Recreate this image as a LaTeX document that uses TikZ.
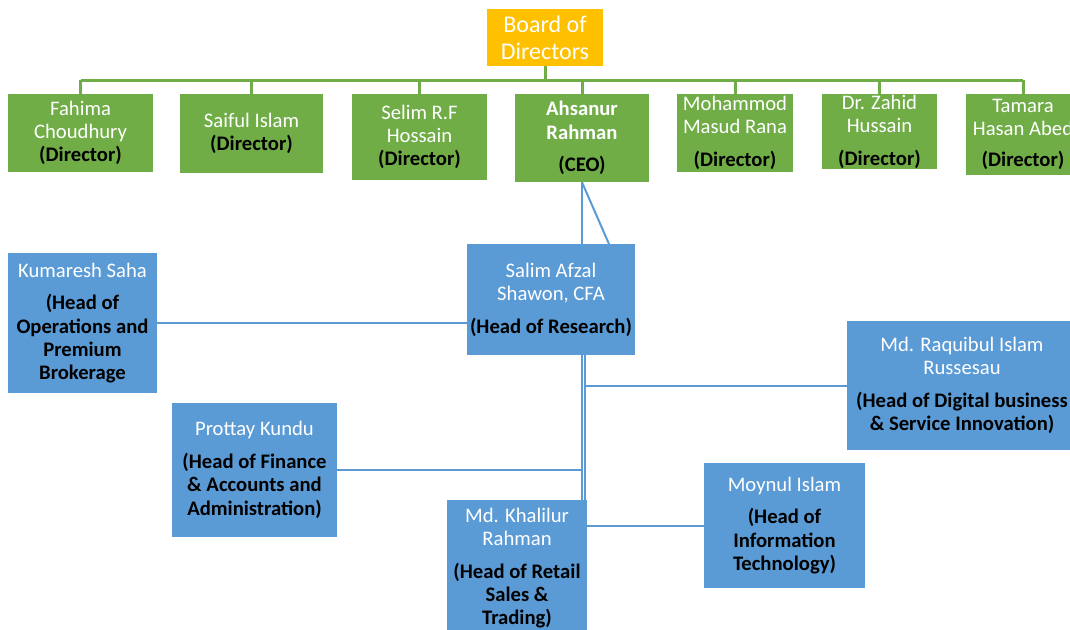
\documentclass[tikz,border=0pt]{standalone}
\usepackage{fontspec}
\setmainfont{Carlito}

\definecolor{dirgreen}{HTML}{70AD47}
\definecolor{boardorange}{HTML}{FFC000}
\definecolor{headblue}{HTML}{5B9BD5}
\newcommand{\roletxt}[1]{{\color{black}\bfseries #1}}

\begin{document}
\begin{tikzpicture}[x=0.75pt,y=-0.75pt,
  box/.style 2 args={minimum width=#1*0.75pt,minimum height=#2*0.75pt,inner sep=0pt,
    align=center,text=white,font=\fontsize{15.5}{17.5}\selectfont},
  dir/.style 2 args={box={#1}{#2},fill=dirgreen},
  head/.style 2 args={box={#1}{#2},fill=headblue},
  gline/.style={draw=dirgreen,line width=2.25pt},
  bline/.style={draw=headblue,line width=1.5pt}]
		\useasboundingbox (0,0) rectangle (1070,629);
		\clip (0,0) rectangle (1070,629);

		% board and directors
		\node[box={116}{57},fill=boardorange,font=\fontsize{18}{20.5}\selectfont] (board) at (545,37.5) {Board of\\Directors};
		\node[dir={145}{78}] (fahima) at (80.5,133) {Fahima\\Choudhury\\\roletxt{(Director)}};
		\node[dir={143}{79}] (saiful) at (251.5,133.5) {Saiful Islam\\\roletxt{(Director)}};
		\node[dir={135}{86}] (selim) at (419.5,137) {Selim R.F\\Hossain\\\roletxt{(Director)}};
		\node[dir={134}{88}] (ahsanur) at (582,138) {\textbf{Ahsanur}\\\textbf{Rahman}\\[7pt]\roletxt{(CEO)}};
		\node[dir={116}{78}] (masud) at (735,133) {Mohammod\\Masud Rana\\[7pt]\roletxt{(Director)}};
		\node[dir={115}{75}] (zahid) at (879.5,131.5) {Dr. Zahid\\Hussain\\[7pt]\roletxt{(Director)}};
		\node[dir={114}{81}] (tamara) at (1023,134.5) {Tamara\\Hasan Abed\\[6pt]\roletxt{(Director)}};

		% heads
		\node[head={168}{111}] (salim) at (551,299.5) {Salim Afzal\\Shawon, CFA\\[7pt]\roletxt{(Head of Research)}};
		\node[head={149}{140}] (kumaresh) at (82.5,323) {Kumaresh Saha\\[7pt]\roletxt{(Head of}\\\roletxt{Operations and}\\\roletxt{Premium}\\\roletxt{Brokerage}};
		\node[head={230}{129}] (raquibul) at (962,385.5) {Md. Raquibul Islam\\Russesau\\[7pt]\roletxt{(Head of Digital business}\\\roletxt{\& Service Innovation)}};
		\node[head={165}{134}] (prottay) at (254.5,470) {Prottay Kundu\\[7pt]\roletxt{(Head of Finance}\\\roletxt{\& Accounts and}\\\roletxt{Administration)}};
		\node[head={161}{125}] (moynul) at (784.5,525.5) {Moynul Islam\\[7pt]\roletxt{(Head of}\\\roletxt{Information}\\\roletxt{Technology)}};
		\node[head={140}{136}] (khalilur) at (517,568) {Md. Khalilur\\Rahman\\[7pt]\roletxt{(Head of Retail}\\\roletxt{Sales \&}\\\roletxt{Trading)}};

		% green bus
		\coordinate (bus) at (0,80);
		\draw[gline] (fahima.north |- bus) -- (tamara.north |- bus);
		\draw[gline] (board.south) -- (board.south |- bus);
		\foreach \d in {fahima,saiful,selim,ahsanur,masud,zahid,tamara}
			\draw[gline] (\d.north |- bus) -- (\d.north);

		% blue lines
		\coordinate (slant) at (609,244);
		\coordinate (trunkA) at (581.5,355);
		\coordinate (trunkB) at (584.5,355);
		\draw[bline] (ahsanur.south) -- (ahsanur.south |- salim.north);
		\draw[bline] (ahsanur.south) -- (slant);
		\draw[bline] (kumaresh.east) -- (kumaresh.east -| salim.west);
		\draw[bline] (trunkA) -- (trunkA |- khalilur.north);
		\draw[bline] (trunkB) -- (trunkB |- khalilur.north);
		\draw[bline] (trunkB |- raquibul.west) -- (raquibul.west);
		\draw[bline] (prottay.east) -- (prottay.east -| trunkA);
		\draw[bline] (khalilur.east |- moynul.west) -- (moynul.west);
\end{tikzpicture}
\end{document}
